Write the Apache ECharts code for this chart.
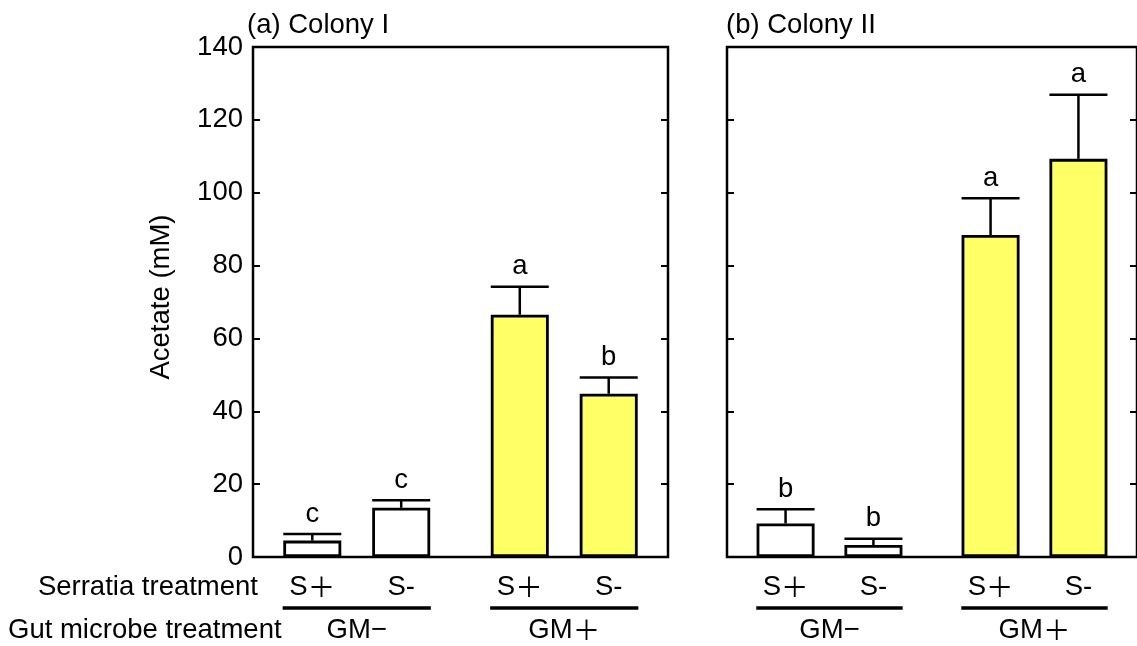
<!DOCTYPE html>
<html>
<head>
<meta charset="utf-8">
<script src="https://cdn.jsdelivr.net/npm/echarts@6/dist/echarts.min.js"></script>
<style>
  html, body { margin: 0; padding: 0; background: #fff; }
  #chart { width: 1137px; height: 646px; }
</style>
</head>
<body>
<div id="chart"></div>
<script>
// Treatment groups, placed along a hidden 0..7 position axis
const positions = [1, 2.5, 4.5, 6];
const serratiaLabels = ['S\uFF0B', 'S-', 'S\uFF0B', 'S-'];
const gutGroups = [
  { label: 'GM\u2212', from: 0.5, to: 3.0 },
  { label: 'GM\uFF0B', from: 4.0, to: 6.5 }
];
const gutMicrobePresent = [false, false, true, true];

// Colony I: acetate means, standard errors, significance letters
const colonyIMean = [4.5, 13.5, 66.5, 44.8];
const colonyIErr = [1.8, 2.1, 7.7, 4.5];
const colonyILetters = ['c', 'c', 'a', 'b'];

// Colony II
const colonyIIMean = [9.2, 3.3, 88.4, 109.3];
const colonyIIErr = [3.9, 1.7, 10.1, 17.6];
const colonyIILetters = ['b', 'b', 'a', 'a'];

const yTicks = [0, 20, 40, 60, 80, 100, 120, 140];

const FONT = "'Liberation Sans', Arial, Helvetica, sans-serif";
const CJK = "'Noto Sans CJK JP', 'Noto Sans CJK SC', sans-serif";
const FS = 27.5;
const YELLOW = '#ffff66';
const BAR_W = 58;

const chart = echarts.init(document.getElementById('chart'), null, { renderer: 'canvas' });

// Full-width plus signs are drawn with a CJK face so they keep their wide shape
function richLabel(str) {
  let out = '';
  for (const ch of str) {
    out += ch === '\uFF0B' ? '{w|' + ch + '}' : '{n|' + ch + '}';
  }
  return out;
}
const RICH = {
  n: { fontSize: FS, fontFamily: FONT, color: '#000' },
  w: { fontSize: FS, fontFamily: CJK, color: '#000' }
};

function barData(means) {
  return means.map((m, i) => ({
    value: [positions[i], m],
    itemStyle: { color: gutMicrobePresent[i] ? YELLOW : '#ffffff' }
  }));
}

function errData(means, errs, letters) {
  return means.map((m, i) => [positions[i], m, m + errs[i], letters[i]]);
}

function renderError(params, api) {
  const x = api.value(0);
  const base = api.coord([x, api.value(1)]);
  const top = api.coord([x, api.value(2)]);
  const half = BAR_W / 2;
  return {
    type: 'group',
    children: [
      { type: 'line', shape: { x1: top[0], y1: base[1], x2: top[0], y2: top[1] },
        style: { stroke: '#000', lineWidth: 2.5 } },
      { type: 'line', shape: { x1: top[0] - half, y1: top[1], x2: top[0] + half, y2: top[1] },
        style: { stroke: '#000', lineWidth: 2.5 } },
      { type: 'text', style: { text: api.value(3), x: top[0], y: top[1] - 20,
        align: 'center', verticalAlign: 'middle', fontSize: FS, fontFamily: FONT, fill: '#000' } }
    ]
  };
}

function renderSerratia(params, api) {
  const p = api.coord([api.value(0), 0]);
  return { type: 'text', style: { text: richLabel(serratiaLabels[params.dataIndex]), rich: RICH,
    x: p[0], y: p[1] + 30, align: 'center', verticalAlign: 'middle', fontSize: FS, fontFamily: FONT, fill: '#000' } };
}

function renderGut(params, api) {
  const g = gutGroups[params.dataIndex];
  const a = api.coord([g.from, 0]);
  const b = api.coord([g.to, 0]);
  return {
    type: 'group',
    children: [
      { type: 'line', shape: { x1: a[0], y1: a[1] + 51, x2: b[0], y2: b[1] + 51 },
        style: { stroke: '#000', lineWidth: 3.5 } },
      { type: 'text', style: { text: richLabel(g.label), rich: RICH, x: (a[0] + b[0]) / 2, y: a[1] + 73,
        align: 'center', verticalAlign: 'middle', fontSize: FS, fontFamily: FONT, fill: '#000' } }
    ]
  };
}

function yAxisPair(gridIndex, showLabels) {
  const common = {
    type: 'value', gridIndex: gridIndex, min: yTicks[0], max: yTicks[yTicks.length - 1], interval: 20,
    splitLine: { show: false },
    axisLine: { show: false },
    axisTick: { show: true, inside: true, length: 7, lineStyle: { color: '#000', width: 2 } }
  };
  return [
    Object.assign({}, common, { position: 'left',
      axisLabel: { show: showLabels, color: '#000', fontSize: FS, fontFamily: FONT, margin: 10 } }),
    Object.assign({}, common, { position: 'right', axisLabel: { show: false } })
  ];
}

const gridBase = { top: 47, height: 510, show: true, borderColor: '#000', borderWidth: 2.5, backgroundColor: 'transparent' };

const option = {
  animation: false,
  backgroundColor: '#ffffff',
  title: [
    { text: '(a) Colony I', left: 242, top: 6, textStyle: { fontSize: FS, fontWeight: 'normal', fontFamily: FONT, color: '#000' } },
    { text: '(b) Colony II', left: 721, top: 6, textStyle: { fontSize: FS, fontWeight: 'normal', fontFamily: FONT, color: '#000' } }
  ],
  grid: [
    Object.assign({ left: 253, width: 415 }, gridBase),
    Object.assign({ left: 727, width: 414 }, gridBase)
  ],
  xAxis: [
    { type: 'value', gridIndex: 0, min: 0, max: 7, show: false },
    { type: 'value', gridIndex: 1, min: 0, max: 7, show: false }
  ],
  yAxis: [].concat(yAxisPair(0, true), yAxisPair(1, false)),
  graphic: [
    { type: 'text', x: 161, y: 297, rotation: Math.PI / 2,
      style: { text: 'Acetate (mM)', align: 'center', verticalAlign: 'middle', fontSize: FS, fontFamily: FONT, fill: '#000' } },
    { type: 'text', x: 258, y: 587,
      style: { text: 'Serratia treatment', align: 'right', verticalAlign: 'middle', fontSize: FS, fontFamily: FONT, fill: '#000' } },
    { type: 'text', x: 8, y: 630,
      style: { text: 'Gut microbe treatment', align: 'left', verticalAlign: 'middle', fontSize: FS, fontFamily: FONT, fill: '#000' } }
  ],
  series: [
    { type: 'bar', xAxisIndex: 0, yAxisIndex: 0, barWidth: BAR_W, data: barData(colonyIMean),
      itemStyle: { borderColor: '#000', borderWidth: 2.8 } },
    { type: 'custom', xAxisIndex: 0, yAxisIndex: 0, clip: false, renderItem: renderError,
      data: errData(colonyIMean, colonyIErr, colonyILetters) },
    { type: 'custom', xAxisIndex: 0, yAxisIndex: 0, clip: false, renderItem: renderSerratia,
      data: positions.map(p => [p]) },
    { type: 'custom', xAxisIndex: 0, yAxisIndex: 0, clip: false, renderItem: renderGut,
      data: gutGroups.map(g => [g.from, g.to]) },

    { type: 'bar', xAxisIndex: 1, yAxisIndex: 2, barWidth: BAR_W, data: barData(colonyIIMean),
      itemStyle: { borderColor: '#000', borderWidth: 2.8 } },
    { type: 'custom', xAxisIndex: 1, yAxisIndex: 2, clip: false, renderItem: renderError,
      data: errData(colonyIIMean, colonyIIErr, colonyIILetters) },
    { type: 'custom', xAxisIndex: 1, yAxisIndex: 2, clip: false, renderItem: renderSerratia,
      data: positions.map(p => [p]) },
    { type: 'custom', xAxisIndex: 1, yAxisIndex: 2, clip: false, renderItem: renderGut,
      data: gutGroups.map(g => [g.from, g.to]) }
  ]
};

chart.setOption(option);
</script>
</body>
</html>
